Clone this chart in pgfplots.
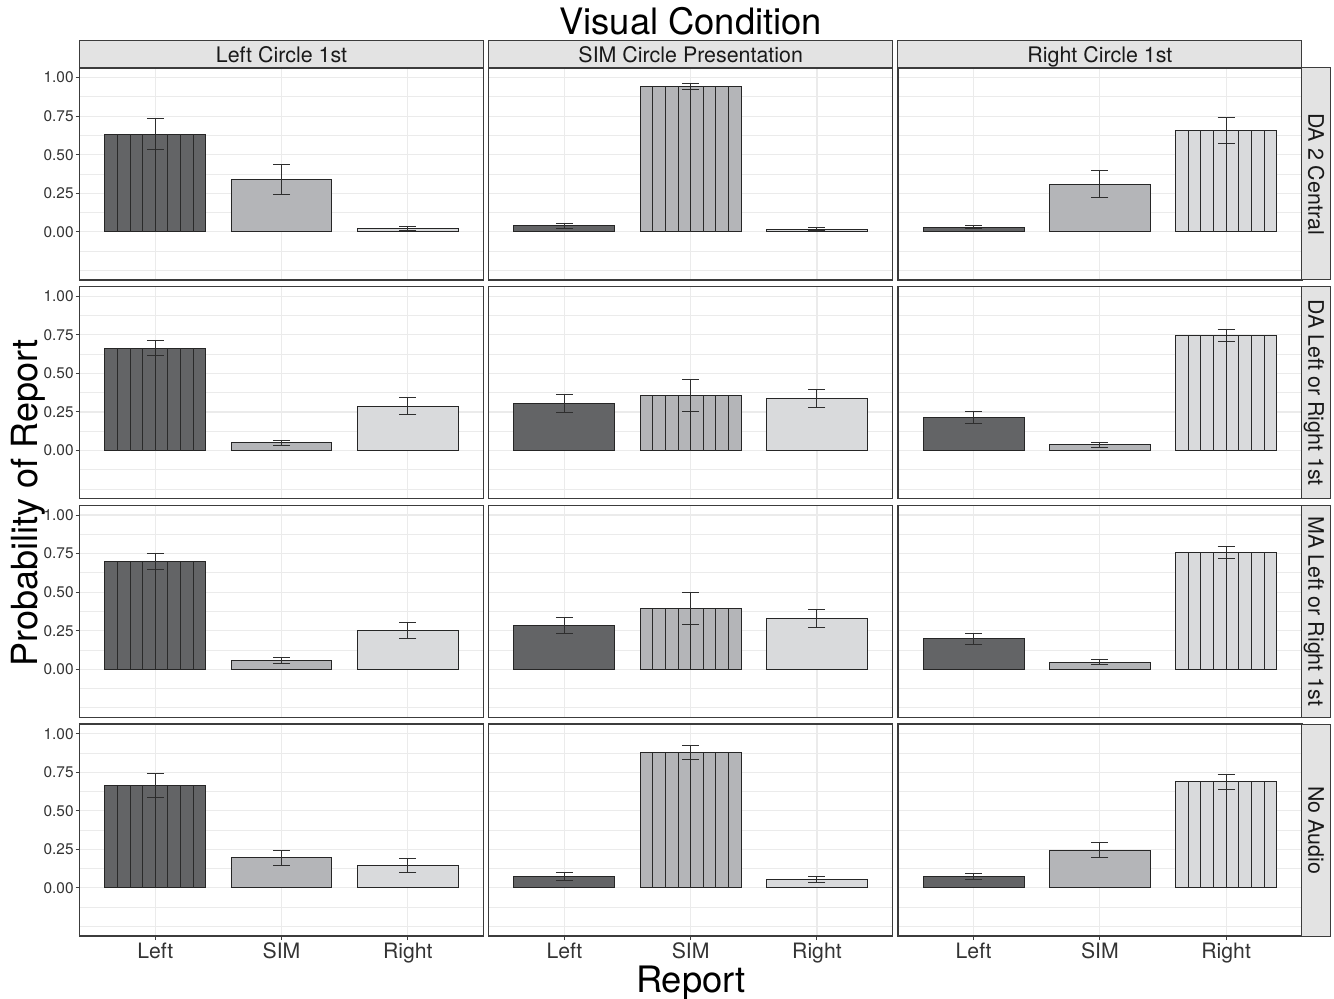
\documentclass[border=0pt]{standalone}
\usepackage{fontspec}
\setmainfont{TeX Gyre Heros}
\usepackage{pgfplots}
\pgfplotsset{compat=1.18}
\usetikzlibrary{calc}
\definecolor{cL}{HTML}{636466}
\definecolor{cS}{HTML}{B4B5B8}
\definecolor{cR}{HTML}{D9DADC}
\definecolor{gridc}{HTML}{EBEBEB}
\definecolor{framec}{HTML}{3C3C3C}
\definecolor{stripc}{HTML}{E3E3E3}
\definecolor{errc}{HTML}{2E2E2E}
\definecolor{stripec}{HTML}{2A2A2A}
\definecolor{tickc}{HTML}{333333}
\pgfplotsset{
  panel/.style={
    scale only axis, width=202pt, height=106pt,
    anchor=north west,
    xmin=0.4, xmax=3.6, ymin=-0.3125, ymax=1.0625,
    xtick={1,2,3}, xticklabels={},
    ytick={0,0.25,0.5,0.75,1}, yticklabels={},
    minor ytick={-0.25,-0.125,0.125,0.375,0.625,0.875},
    grid=both,
    major grid style={draw=gridc, line width=0.55pt},
    minor grid style={draw=gridc, line width=0.4pt},
    tick align=outside, major tick length=2pt, minor tick length=0pt,
    tick style={draw=framec, line width=0.5pt},
    axis line style={draw=framec, line width=0.6pt},
    xtick pos=bottom, ytick pos=left,
  },
  noxt/.style={xtick style={draw=none}},
  noyt/.style={ytick style={draw=none}},
  leftcol/.style={yticklabels={0.00,0.25,0.50,0.75,1.00},
    yticklabel style={font=\fontsize{7.7}{9}\selectfont, text=tickc, inner sep=0pt, xshift=-0.75pt}},
  botrow/.style={xticklabels={Left,SIM,Right},
    xticklabel style={font=\fontsize{10.6}{12}\selectfont, text=tickc, yshift=2pt}},
  bar/.style={ybar, bar width=0.8, bar shift=0pt, draw=black!85, line width=0.5pt,
    error bars/y dir=both, error bars/y explicit,
    error bars/error bar style={line width=0.5pt, draw=errc},
    error bars/error mark options={rotate=90, line width=0.5pt, draw=errc, mark size=4.25pt}},
  stripes/.style={ycomb, mark=none, draw=stripec, line width=0.5pt},
}
\newcommand{\stripbox}[4]{%
  \draw[fill=stripc, draw=framec, line width=0.5pt] (#1) rectangle (#2);
  \node[font=\fontsize{10.7}{12}\selectfont, text=black!90, text height=7.7pt, text depth=0pt, inner sep=0pt, #4] at ($(#1)!0.5!(#2)$) {#3};}
\begin{document}
\begin{tikzpicture}
\path[use as bounding box] (0,0) rectangle (667pt,499.5pt);
% ---------------- Row 1: DA 2 Central
\begin{axis}[panel, leftcol, noxt, at={(39.75pt,465.5pt)}]
\addplot[bar, fill=cL] coordinates {(1,0.634) +- (0,0.099)};
\addplot[bar, fill=cS] coordinates {(2,0.339) +- (0,0.095)};
\addplot[bar, fill=cR] coordinates {(3,0.023) +- (0,0.013)};
\addplot[stripes] coordinates {(0.7,0.634) (0.8,0.634) (0.9,0.634) (1.0,0.634) (1.1,0.634) (1.2,0.634) (1.3,0.634)};
\end{axis}
\begin{axis}[panel, noxt, noyt, at={(244.35pt,465.5pt)}]
\addplot[bar, fill=cL] coordinates {(1,0.038) +- (0,0.015)};
\addplot[bar, fill=cS] coordinates {(2,0.945) +- (0,0.020)};
\addplot[bar, fill=cR] coordinates {(3,0.018) +- (0,0.012)};
\addplot[stripes] coordinates {(1.7,0.945) (1.8,0.945) (1.9,0.945) (2.0,0.945) (2.1,0.945) (2.2,0.945) (2.3,0.945)};
\end{axis}
\begin{axis}[panel, noxt, noyt, at={(448.95pt,465.5pt)}]
\addplot[bar, fill=cL] coordinates {(1,0.031) +- (0,0.012)};
\addplot[bar, fill=cS] coordinates {(2,0.310) +- (0,0.090)};
\addplot[bar, fill=cR] coordinates {(3,0.658) +- (0,0.084)};
\addplot[stripes] coordinates {(2.7,0.658) (2.8,0.658) (2.9,0.658) (3.0,0.658) (3.1,0.658) (3.2,0.658) (3.3,0.658)};
\end{axis}
% ---------------- Row 2: DA Left or Right 1st
\begin{axis}[panel, leftcol, noxt, at={(39.75pt,356.15pt)}]
\addplot[bar, fill=cL] coordinates {(1,0.663) +- (0,0.050)};
\addplot[bar, fill=cS] coordinates {(2,0.049) +- (0,0.017)};
\addplot[bar, fill=cR] coordinates {(3,0.288) +- (0,0.053)};
\addplot[stripes] coordinates {(0.7,0.663) (0.8,0.663) (0.9,0.663) (1.0,0.663) (1.1,0.663) (1.2,0.663) (1.3,0.663)};
\end{axis}
\begin{axis}[panel, noxt, noyt, at={(244.35pt,356.15pt)}]
\addplot[bar, fill=cL] coordinates {(1,0.305) +- (0,0.058)};
\addplot[bar, fill=cS] coordinates {(2,0.358) +- (0,0.103)};
\addplot[bar, fill=cR] coordinates {(3,0.337) +- (0,0.056)};
\addplot[stripes] coordinates {(1.7,0.358) (1.8,0.358) (1.9,0.358) (2.0,0.358) (2.1,0.358) (2.2,0.358) (2.3,0.358)};
\end{axis}
\begin{axis}[panel, noxt, noyt, at={(448.95pt,356.15pt)}]
\addplot[bar, fill=cL] coordinates {(1,0.213) +- (0,0.038)};
\addplot[bar, fill=cS] coordinates {(2,0.037) +- (0,0.016)};
\addplot[bar, fill=cR] coordinates {(3,0.746) +- (0,0.042)};
\addplot[stripes] coordinates {(2.7,0.746) (2.8,0.746) (2.9,0.746) (3.0,0.746) (3.1,0.746) (3.2,0.746) (3.3,0.746)};
\end{axis}
% ---------------- Row 3: MA Left or Right 1st
\begin{axis}[panel, leftcol, noxt, at={(39.75pt,246.8pt)}]
\addplot[bar, fill=cL] coordinates {(1,0.698) +- (0,0.053)};
\addplot[bar, fill=cS] coordinates {(2,0.054) +- (0,0.020)};
\addplot[bar, fill=cR] coordinates {(3,0.249) +- (0,0.052)};
\addplot[stripes] coordinates {(0.7,0.698) (0.8,0.698) (0.9,0.698) (1.0,0.698) (1.1,0.698) (1.2,0.698) (1.3,0.698)};
\end{axis}
\begin{axis}[panel, noxt, noyt, at={(244.35pt,246.8pt)}]
\addplot[bar, fill=cL] coordinates {(1,0.281) +- (0,0.052)};
\addplot[bar, fill=cS] coordinates {(2,0.393) +- (0,0.103)};
\addplot[bar, fill=cR] coordinates {(3,0.327) +- (0,0.059)};
\addplot[stripes] coordinates {(1.7,0.393) (1.8,0.393) (1.9,0.393) (2.0,0.393) (2.1,0.393) (2.2,0.393) (2.3,0.393)};
\end{axis}
\begin{axis}[panel, noxt, noyt, at={(448.95pt,246.8pt)}]
\addplot[bar, fill=cL] coordinates {(1,0.197) +- (0,0.036)};
\addplot[bar, fill=cS] coordinates {(2,0.046) +- (0,0.016)};
\addplot[bar, fill=cR] coordinates {(3,0.758) +- (0,0.039)};
\addplot[stripes] coordinates {(2.7,0.758) (2.8,0.758) (2.9,0.758) (3.0,0.758) (3.1,0.758) (3.2,0.758) (3.3,0.758)};
\end{axis}
% ---------------- Row 4: No Audio
\begin{axis}[panel, leftcol, botrow, at={(39.75pt,137.45pt)}]
\addplot[bar, fill=cL] coordinates {(1,0.664) +- (0,0.080)};
\addplot[bar, fill=cS] coordinates {(2,0.194) +- (0,0.050)};
\addplot[bar, fill=cR] coordinates {(3,0.145) +- (0,0.046)};
\addplot[stripes] coordinates {(0.7,0.664) (0.8,0.664) (0.9,0.664) (1.0,0.664) (1.1,0.664) (1.2,0.664) (1.3,0.664)};
\end{axis}
\begin{axis}[panel, botrow, noyt, at={(244.35pt,137.45pt)}]
\addplot[bar, fill=cL] coordinates {(1,0.071) +- (0,0.026)};
\addplot[bar, fill=cS] coordinates {(2,0.878) +- (0,0.045)};
\addplot[bar, fill=cR] coordinates {(3,0.055) +- (0,0.021)};
\addplot[stripes] coordinates {(1.7,0.878) (1.8,0.878) (1.9,0.878) (2.0,0.878) (2.1,0.878) (2.2,0.878) (2.3,0.878)};
\end{axis}
\begin{axis}[panel, botrow, noyt, at={(448.95pt,137.45pt)}]
\addplot[bar, fill=cL] coordinates {(1,0.073) +- (0,0.021)};
\addplot[bar, fill=cS] coordinates {(2,0.244) +- (0,0.050)};
\addplot[bar, fill=cR] coordinates {(3,0.687) +- (0,0.046)};
\addplot[stripes] coordinates {(2.7,0.687) (2.8,0.687) (2.9,0.687) (3.0,0.687) (3.1,0.687) (3.2,0.687) (3.3,0.687)};
\end{axis}
% ---------------- strips
\stripbox{39.75pt,465.5pt}{241.75pt,479pt}{Left Circle 1st}{}
\stripbox{244.35pt,465.5pt}{446.35pt,479pt}{SIM Circle Presentation}{}
\stripbox{448.95pt,465.5pt}{650.95pt,479pt}{Right Circle 1st}{}
\stripbox{650.95pt,465.5pt}{665pt,359.5pt}{DA 2 Central}{rotate=-90}
\stripbox{650.95pt,356.15pt}{665pt,250.15pt}{DA Left or Right 1st}{rotate=-90}
\stripbox{650.95pt,246.8pt}{665pt,140.8pt}{MA Left or Right 1st}{rotate=-90}
\stripbox{650.95pt,137.45pt}{665pt,31.45pt}{No Audio}{rotate=-90}
% ---------------- titles
\node[font=\fontsize{18.2}{20}\selectfont, anchor=base] at (345.35pt,482pt) {Visual Condition};
\node[font=\fontsize{18.2}{20}\selectfont, anchor=base] at (345.5pt,3.4pt) {Report};
\node[font=\fontsize{18}{20}\selectfont, anchor=base, rotate=90] at (19pt,248pt) {Probability of Report};
\end{tikzpicture}
\end{document}
